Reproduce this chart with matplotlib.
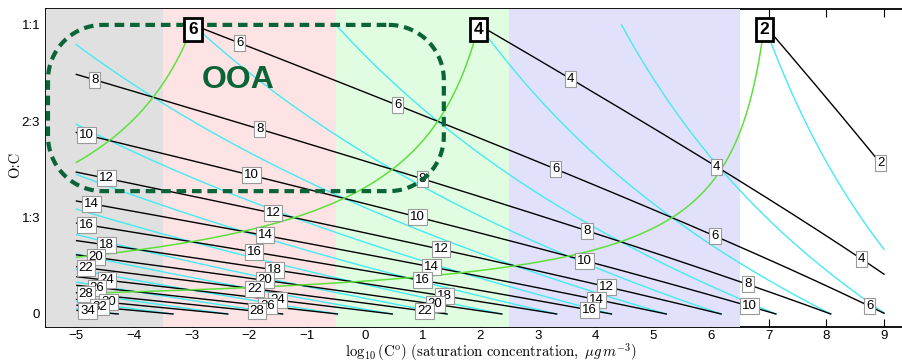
import numpy as np
import matplotlib
matplotlib.use("Agg")
import matplotlib.pyplot as plt
from matplotlib.path import Path
from matplotlib.patches import PathPatch

plt.rcParams["mathtext.fontset"] = "cm"

# ---- 2D volatility basis set parameters ----
nC0 = 25.0      # carbon number of a 1 ug/m3 hydrocarbon
b_C = 0.475     # decades per carbon
b_O = 2.3       # decades per oxygen
b_CO = -0.3     # carbon-oxygen non-ideality

carbon_levels = [2, 4, 6, 8, 10, 12, 14, 16, 18, 20, 22, 24, 26, 28, 30, 32, 34]
oxygen_levels = [2, 4, 6]
heavy_atom_levels = [4, 6, 8, 10, 12, 14, 16, 18, 20, 22, 24, 26, 28, 30, 32, 34]
boxed_levels = [6, 4, 2]

band_edges = [-3.5, -0.5, 2.5, 6.5]
band_colors = ["#e0e0e0", "#fde3e3", "#e1fde1", "#e1e1fb"]

x_ticks = list(range(-5, 10))
y_ticks = [0, 1 / 3, 2 / 3, 1]
y_tick_labels = ["0", "1:3", "2:3", "1:1"]

# inline label anchors (log10 C0) along each carbon-number line
carbon_label_x = {
    2: [8.94],
    4: [3.57, 6.1, 8.61],
    6: [-2.17, 0.57, 3.31, 6.07, 8.75],
    8: [-4.68, -1.82, 1.0, 3.85, 6.64],
    10: [-4.83, -1.96, 0.92, 3.81, 6.67],
    12: [-4.47, -1.59, 1.32, 4.19],
    14: [-4.73, -1.73, 1.16, 4.02],
    16: [-4.83, -1.92, 1.0, 3.9],
    18: [-4.47, -1.56, 1.38],
    20: [-4.66, -1.73, 1.22],
    22: [-4.83, -1.91, 1.04],
    24: [-4.47, -1.51],
    26: [-4.64, -1.68],
    28: [-4.83, -1.87],
    30: [-4.44],
    32: [-4.6],
    34: [-4.8],
}

XMIN, XMAX = -5.0, 9.0
ooa_box = dict(x0=-5.49, x1=1.37, y0=0.425, y1=1.0)


def per_carbon(r):
    """Drop in log10 C0 per carbon atom at a given O:C ratio."""
    return b_C + r * b_O + 2 * r * b_CO / (1 + r)


def clip(x, y):
    x = np.asarray(x, float).copy()
    y = np.asarray(y, float).copy()
    bad = (x < XMIN) | (x > XMAX)
    x[bad] = np.nan
    y[bad] = np.nan
    return x, y


r = np.linspace(0.0, 1.0, 4001)
r_pos = np.linspace(0.002, 1.0, 4001)


def carbon_line(nc):
    return nC0 * b_C - nc * per_carbon(r), r


def oxygen_line(no):
    return nC0 * b_C - (no / r_pos) * per_carbon(r_pos), r_pos


def heavy_line(s):
    return nC0 * b_C - (s / (1 + r)) * per_carbon(r), r


fig = plt.figure(figsize=(9.03, 3.62), dpi=100)
px_per_x = 57.7
xlim = (-5.53, 9.5)
ax = fig.add_axes([45.7 / 903, 35.3 / 362, (xlim[1] - xlim[0]) * px_per_x / 903, 317.7 / 362])
ax.set_xlim(*xlim)
ax.set_ylim(-0.044, 1.055)

# volatility classes
left_edges = [xlim[0]] + band_edges[:-1]
for lo, hi, c in zip(left_edges, band_edges, band_colors):
    ax.axvspan(lo, hi, color=c, lw=0, zorder=1)

for sp in ax.spines.values():
    sp.set_zorder(0.5)
    sp.set_linewidth(1.3)
ax.set_axisbelow(True)

# iso-(nC+nO) lines
for s in heavy_atom_levels:
    x, y = clip(*heavy_line(s))
    ax.plot(x, y, color="#45eaf2", lw=1.0, zorder=2)

# iso-carbon lines
for nc in carbon_levels:
    x, y = clip(*carbon_line(nc))
    ax.plot(x, y, color="black", lw=1.0, zorder=2.1)

# iso-oxygen lines
for no in oxygen_levels:
    x, y = clip(*oxygen_line(no))
    ax.plot(x, y, color="#5ee03a", lw=1.1, zorder=2.2)

# inline carbon-number labels
for i, nc in enumerate(carbon_levels):
    xs, ys = carbon_line(nc)
    for xl in carbon_label_x[nc]:
        yl = np.interp(xl, xs[::-1], ys[::-1])
        ax.text(xl, yl, str(nc), ha="center", va="center", fontsize=9.5,
                family="Liberation Sans", zorder=3 + 0.01 * i,
                bbox=dict(boxstyle="square,pad=0.15", fc="white", ec="#9a9a9a", lw=0.8))

# rounded OOA region
bx0, bx1, by0, by1 = ooa_box["x0"], ooa_box["x1"], ooa_box["y0"], ooa_box["y1"]
rad_px = 55
rx, ry = rad_px / px_per_x, rad_px / 289.0
t = np.linspace(0, np.pi / 2, 30)
pts = []
pts += list(zip(bx1 - rx + rx * np.sin(t), by1 - ry + ry * np.cos(t)))
pts += list(zip(bx1 - rx + rx * np.cos(t), by0 + ry - ry * np.sin(t)))
pts += list(zip(bx0 + rx - rx * np.sin(t), by0 + ry - ry * np.cos(t)))
pts += list(zip(bx0 + rx - rx * np.cos(t), by1 - ry + ry * np.sin(t)))
pts.append(pts[0])
ooa_path = Path(np.array(pts))
ax.add_patch(PathPatch(ooa_path, fill=False, ec="#0a6437", lw=3.0,
                       ls=(0, (2.3, 1.4)), zorder=4, clip_on=False))
ax.text(-2.2, 0.81, "OOA", color="#0a6437", fontsize=23, fontweight="bold",
        family="Liberation Sans", ha="center", va="center", zorder=4)

# boxed carbon numbers at O:C = 1
for n in boxed_levels:
    xb = nC0 * b_C - n * per_carbon(1.0)
    ax.text(xb, 0.983, str(n), ha="center", va="center", fontsize=12.5,
            fontweight="bold", family="Liberation Sans", zorder=5,
            bbox=dict(boxstyle="square,pad=0.22", fc="white", ec="black", lw=2.0))

ax.set_xticks(x_ticks)
ax.set_yticks(y_ticks)
ax.set_yticklabels(y_tick_labels)
ax.tick_params(direction="in", top=True, right=True, length=5.5, width=0.8,
               labelsize=9.5)
ax.tick_params(axis="x", pad=2.5)
ax.tick_params(axis="y", pad=4)
for lab in ax.get_xticklabels() + ax.get_yticklabels():
    lab.set_family("Liberation Sans")

fig.text(491 / 903, 1 - 357 / 362,
         r"$\log_{10}(\mathrm{C^o})\ (\mathrm{saturation\ concentration,}\ \mu g\, m^{-3})$",
         ha="center", va="baseline", fontsize=10.6)
fig.text(15 / 903, 1 - 165 / 362, "O:C", rotation=90, family="cmr10",
         ha="center", va="center", fontsize=10.5)

fig.savefig("out.png", dpi=100)
